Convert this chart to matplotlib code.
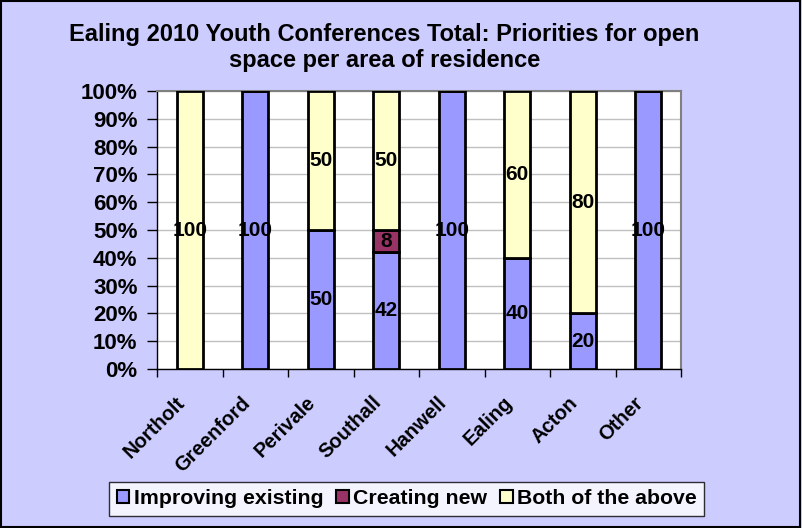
import matplotlib.pyplot as plt
from matplotlib.patches import Patch
from matplotlib.transforms import ScaledTranslation
import numpy as np

plt.rcParams['font.family'] = ['Liberation Sans', 'DejaVu Sans']
plt.rcParams['font.weight'] = 'bold'

areas = ['Northolt', 'Greenford', 'Perivale', 'Southall', 'Hanwell', 'Ealing', 'Acton', 'Other']
improving = [0, 100, 50, 42, 100, 40, 20, 100]
creating = [0, 0, 0, 8, 0, 0, 0, 0]
both = [100, 0, 50, 50, 0, 60, 80, 0]

series = [('Improving existing', improving, '#9999FF'),
          ('Creating new', creating, '#993366'),
          ('Both of the above', both, '#FFFFCC')]

fig = plt.figure(figsize=(8.02, 5.28), dpi=100, facecolor='#CCCCFF')
ax = fig.add_axes([0.1958, 0.301, 0.6534, 0.5267])
ax.set_facecolor('white')

x = np.arange(len(areas))
bottom = np.zeros(len(areas))
for name, vals, col in series:
    vals = np.array(vals, dtype=float)
    ax.bar(x, vals, 0.4, bottom=bottom, color=col, edgecolor='black', linewidth=2, zorder=3)
    for xi, b, v in zip(x, bottom, vals):
        if v > 0:
            ax.text(xi, b + v / 2, '%d' % v, ha='center', va='center', fontsize=15,
                    fontweight='bold', zorder=4)
    bottom += vals

ax.set_xlim(-0.5, len(areas) - 0.5)
ax.set_ylim(0, 100)
ax.set_yticks(np.arange(0, 101, 10))
ax.set_yticklabels(['%d%%' % v for v in range(0, 101, 10)], fontsize=16, fontweight='bold')
ax.yaxis.grid(True, color='#C0C0C0', linewidth=1, zorder=0)

# category ticks sit on the boundaries, labels in the middle
ax.set_xticks(np.arange(-0.5, len(areas)), minor=False)
ax.set_xticklabels([])
ax.set_xticks(x, minor=True)
ax.set_xticklabels(areas, minor=True, rotation=45, ha='right', va='center',
                   rotation_mode='anchor', fontsize=14.5, fontweight='bold')
ax.tick_params(axis='x', which='minor', length=0, pad=22)
ax.tick_params(axis='x', which='major', length=6, width=1, direction='out')
ax.tick_params(axis='y', length=7, width=1, direction='out', pad=7)
shift = ScaledTranslation(-8 / 100, 0, fig.dpi_scale_trans)
for lab in ax.get_xticklabels(minor=True):
    lab.set_transform(lab.get_transform() + shift)

for s in ['left', 'bottom']:
    ax.spines[s].set_color('black')
    ax.spines[s].set_linewidth(1)
for s in ['top', 'right']:
    ax.spines[s].set_color('#808080')
    ax.spines[s].set_linewidth(1.5)

fig.text(0.479, 0.91, 'Ealing 2010 Youth Conferences Total: Priorities for open\nspace per area of residence',
         ha='center', va='center', fontsize=17, fontweight='bold', linespacing=1.2)

handles = [Patch(facecolor=col, edgecolor='black', linewidth=1.5, label=name) for name, _, col in series]
leg = fig.legend(handles=handles, loc='center', bbox_to_anchor=(0.507, 0.0556), ncol=3,
                 frameon=True, fancybox=False, edgecolor='black', fontsize=15.3,
                 handlelength=0.6, handleheight=0.6, handletextpad=0.2, columnspacing=0.6,
                 borderpad=0.35)
leg.get_frame().set_linewidth(1)
for t in leg.get_texts():
    t.set_fontweight('bold')

# outer chart border
fig.patches.append(plt.Rectangle((0.001, 0.001), 0.997, 0.997, transform=fig.transFigure,
                                 fill=False, edgecolor='black', linewidth=1.5))

fig.savefig('out.png', dpi=100, facecolor=fig.get_facecolor())
